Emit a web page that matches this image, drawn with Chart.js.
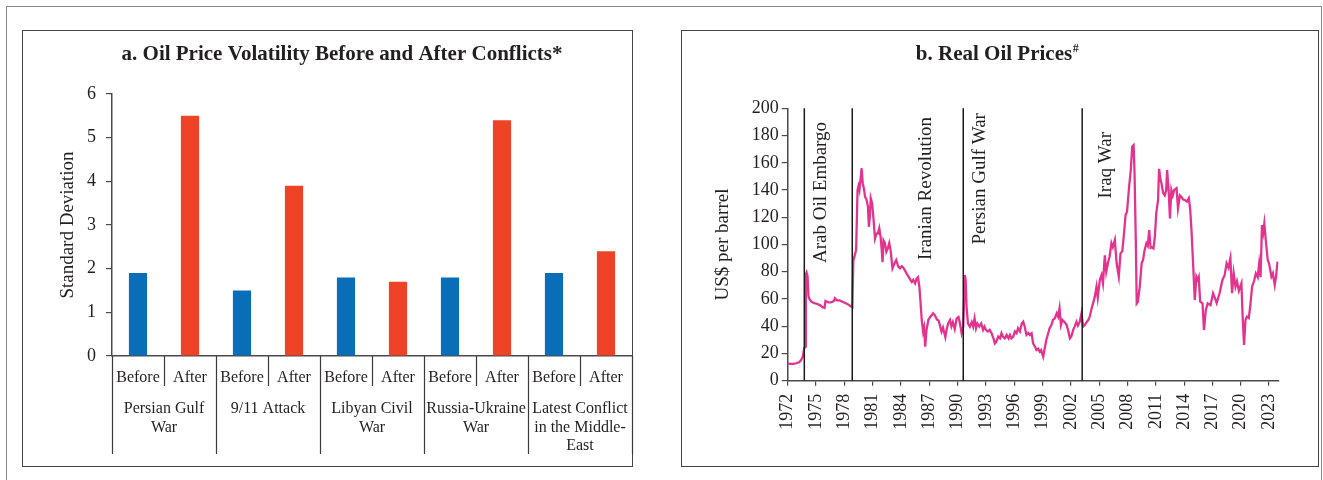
<!DOCTYPE html>
<html><head><meta charset="utf-8">
<script src="https://cdn.jsdelivr.net/npm/chart.js@4.4.1/dist/chart.umd.min.js"></script>
<style>
html,body{margin:0;padding:0;background:#fff;}
body{width:1323px;height:480px;position:relative;overflow:hidden;}
#frame{position:absolute;left:6px;top:6px;width:1316px;height:490px;border:1px solid #888;box-sizing:border-box;}
.panel{position:absolute;top:30px;height:437px;border:1px solid #444;box-sizing:border-box;}
#p1{left:22px;width:611px;}
#p2{left:681px;width:638px;}
canvas{position:absolute;}
#c1{left:22px;top:30px;}
#c2{left:681px;top:30px;}
</style></head>
<body>
<div id="frame"></div>
<div class="panel" id="p1"></div>
<div class="panel" id="p2"></div>
<canvas id="c1" width="618" height="436"></canvas>
<canvas id="c2" width="637" height="436"></canvas>
<script>
// ---------- Panel a data ----------
const conflicts = [
  ['Persian Gulf', 'War'],
  ['9/11 Attack'],
  ['Libyan Civil', 'War'],
  ['Russia-Ukraine', 'War'],
  ['Latest Conflict', 'in the Middle-', 'East']
];
const phases = ['Before', 'After'];
const beforeValues = [1.9, 1.5, 1.8, 1.8, 1.9];
const afterValues  = [5.5, 3.9, 1.7, 5.4, 2.4];
const volTicks = [0, 1, 2, 3, 4, 5, 6];

// ---------- Panel b data ----------
const years = [
1972.0,1972.3,1972.6,1972.9,1973.2,1973.4,1973.6,1973.75,1973.85,1973.92,1974.0,1974.1,1974.2,1974.3,1974.5,1974.8,
1975.1,1975.4,1975.7,1975.9,1976.0,1976.3,1976.6,1976.9,1977.0,1977.2,1977.5,1977.8,1978.1,1978.4,1978.7,1978.85,
1978.95,1979.1,1979.25,1979.4,1979.5,1979.6,1979.75,1979.83,1979.95,1980.1,1980.2,1980.35,1980.5,1980.6,1980.7,1980.8,
1980.95,1981.1,1981.25,1981.4,1981.55,1981.7,1981.85,1981.95,1982.05,1982.15,1982.3,1982.45,1982.6,1982.76,1982.9,1983.1,
1983.3,1983.5,1983.7,1983.9,1984.1,1984.3,1984.5,1984.65,1984.8,1985.0,1985.15,1985.3,1985.5,1985.66,1985.8,1985.95,
1986.1,1986.2,1986.35,1986.45,1986.57,1986.7,1986.9,1987.1,1987.4,1987.6,1987.8,1988.0,1988.15,1988.3,1988.45,1988.7,
1988.85,1989.0,1989.2,1989.35,1989.5,1989.7,1989.9,1990.1,1990.25,1990.43,1990.6,1990.77,1990.85,1990.95,1991.1,1991.3,
1991.5,1991.65,1991.8,1991.95,1992.1,1992.3,1992.5,1992.7,1992.85,1993.0,1993.2,1993.4,1993.6,1993.8,1993.95,1994.1,
1994.3,1994.5,1994.65,1994.8,1995.0,1995.2,1995.4,1995.55,1995.7,1995.9,1996.07,1996.25,1996.4,1996.6,1996.8,1996.95,
1997.1,1997.3,1997.5,1997.65,1997.84,1998.0,1998.2,1998.35,1998.55,1998.7,1998.85,1999.07,1999.2,1999.4,1999.6,1999.75,
1999.95,2000.1,2000.3,2000.5,2000.65,2000.8,2000.95,2001.1,2001.3,2001.55,2001.7,2001.9,2002.05,2002.25,2002.4,2002.6,
2002.75,2002.95,2003.13,2003.3,2003.5,2003.7,2003.85,2004.0,2004.2,2004.35,2004.54,2004.72,2004.85,2005.07,2005.25,2005.4,
2005.6,2005.75,2005.95,2006.1,2006.3,2006.45,2006.66,2006.85,2007.08,2007.26,2007.45,2007.6,2007.8,2007.95,2008.17,2008.35,
2008.5,2008.65,2008.75,2008.88,2008.98,2009.1,2009.3,2009.5,2009.65,2009.8,2010.0,2010.15,2010.3,2010.45,2010.6,2010.75,
2010.9,2011.05,2011.24,2011.35,2011.5,2011.6,2011.77,2011.95,2012.1,2012.2,2012.35,2012.5,2012.65,2012.8,2012.95,2013.2,
2013.35,2013.55,2013.7,2013.9,2014.07,2014.3,2014.5,2014.65,2014.78,2014.95,2015.13,2015.3,2015.45,2015.55,2015.7,2015.95,
2016.1,2016.3,2016.5,2016.8,2017.07,2017.25,2017.45,2017.75,2018.06,2018.3,2018.5,2018.7,2018.9,2019.08,2019.25,2019.44,
2019.6,2019.8,2020.07,2020.2,2020.35,2020.5,2020.65,2020.85,2021.0,2021.2,2021.4,2021.6,2021.8,2021.95,2022.1,2022.25,
2022.38,2022.5,2022.65,2022.86,2023.0,2023.25,2023.4,2023.6,2023.75,2023.9
];
const prices = [
12.5,12.3,12.3,12.8,13.5,15.0,17.5,24,25,78,79.5,77,62,60,58,57,
56.5,55.5,54,53.5,58.5,57.5,57.5,58.5,60.5,59,59,58,57,56,54.5,54,
88,92,96,140,143,140,150,156,145,140,135,133,128,113,120,134,
130,118,104.5,108,108,112,105,97,87,103,101,94.7,97,101,96,82.5,
85.8,88.6,84,82.5,84,82.5,80,78,76.4,74,72.5,74,71.5,75,76,69,
55,44.6,36,39,25,37,44.6,46.8,49.5,48,45,44,40,36,39,32,
38,42,44.6,40,43,38,45.8,46.8,42,34.8,39.7,77.6,74,54.3,42,39.7,
43,39.7,45.8,38.5,42,39.7,42,37.3,39.7,37.3,36.1,37.3,34.8,31.1,27.4,28.5,
32.4,31.1,34.8,32.4,31.1,33.6,31.1,33.6,31.1,32.4,36.1,34.8,38.5,36.1,42,43.3,
40,33.6,35,33.6,34.8,27.4,25,22.5,23.5,21.3,22.5,17.6,22.5,29.9,34.8,38.5,
41,44.6,45.8,49.5,47,53.2,41,44.6,43.3,41,37.3,31.1,32.4,37.3,39.7,43.3,
40.5,43.3,49.5,39.7,41,43.3,44.6,47,53,56.8,61.7,69,61,74,77.6,71.5,
92,80,87,91,101,98,103.3,86.2,76.4,93.5,95,105.7,121.7,124,142.4,154.7,
172,173,152,103.3,56.8,58,69,86.2,88.6,95.5,100.9,99,110.6,97.6,98,97.2,
105.7,123,132.7,155.5,147.4,145,138,136,140,154.7,141,119.2,140,136,140,141.3,
126.6,136,135,133,132.7,131.5,134,125,110.6,86.2,59.2,76.4,74,76,58,56.8,
37.2,51.9,56.8,55.5,64.2,61,57,64,74,77.6,86.2,83,89.9,64.2,78.8,69,
73,66,71.5,47,26.2,44.6,47,46,54.3,69,73,78.8,76,86,76,114.3,
108.8,115.5,103.3,88.6,86,76.4,78.8,70.3,77,87.4
];
const priceTicks = [0, 20, 40, 60, 80, 100, 120, 140, 160, 180, 200];
const yearTicks = [1972,1975,1978,1981,1984,1987,1990,1993,1996,1999,2002,2005,2008,2011,2014,2017,2020,2023];
const eventNames = ['Arab Oil Embargo', 'Iranian Revolution', 'Persian Gulf War', 'Iraq War'];
const eventYears = [1973.76, 1978.84, 1990.6, 2003.2];

// label anchors (layout only)
const eventLabelX = [1975.5, 1986.7, 1992.4, 2005.7];
const eventLabelTop = [190, 193.6, 196.5, 182.6];

const TXT = '#231F20';
const SERIF = '"Liberation Serif", "Times New Roman", serif';
Chart.defaults.font.family = SERIF;
Chart.defaults.color = TXT;

// ---------- Chart a ----------
const barLabels = [];
const barData = [];
const barColors = [];
conflicts.forEach((c, i) => {
  barLabels.push(phases[0]); barData.push(beforeValues[i]); barColors.push('#0A6DB7');
  barLabels.push(phases[1]); barData.push(afterValues[i]); barColors.push('#EE4327');
});

const groupPlugin = {
  id: 'groupPlugin',
  afterDraw(chart) {
    const ctx = chart.ctx;
    const xs = chart.scales.x;
    const top = chart.chartArea.bottom;
    const n = barLabels.length;
    const step = (xs.right - xs.left) / n;
    ctx.save();
    ctx.strokeStyle = '#3a3a3a';
    ctx.lineWidth = 1.2;
    for (let i = 0; i <= n; i++) {
      const x = Math.round(xs.left + i * step) + 0.5;
      const len = (i % 2 === 0) ? 98 : 30;
      ctx.beginPath();
      ctx.moveTo(x, top);
      ctx.lineTo(x, top + len);
      ctx.stroke();
    }
    ctx.fillStyle = TXT;
    ctx.font = '16px ' + SERIF;
    ctx.textAlign = 'center';
    ctx.textBaseline = 'middle';
    conflicts.forEach((lines, g) => {
      const cx = (xs.getPixelForValue(2 * g) + xs.getPixelForValue(2 * g + 1)) / 2;
      lines.forEach((t, k) => ctx.fillText(t, cx, top + 53 + k * 18.5));
    });
    // title
    ctx.font = 'bold 21px ' + SERIF;
    ctx.fillText('a. Oil Price Volatility Before and After Conflicts*', 320, 25);
    ctx.restore();
  }
};

new Chart(document.getElementById('c1'), {
  type: 'bar',
  data: {
    labels: barLabels,
    datasets: [{
      data: barData,
      backgroundColor: barColors,
      borderWidth: 0,
      barPercentage: 0.35,
      categoryPercentage: 1.0
    }]
  },
  options: {
    responsive: false,
    animation: false,
    events: [],
    layout: { padding: { left: 34.6, top: 64, right: 8, bottom: 0 } },
    plugins: { legend: { display: false }, tooltip: { enabled: false } },
    scales: {
      x: {
        grid: { display: false, drawTicks: false },
        border: { display: true, color: '#4a4a4a', width: 1.5 },
        ticks: { font: { size: 16 }, padding: 12, maxRotation: 0, minRotation: 0, color: TXT },
        afterFit(s) { s.height = 110; }
      },
      y: {
        min: 0, max: 6,
        afterBuildTicks(s) { s.ticks = volTicks.map(v => ({ value: v })); },
        grid: { drawOnChartArea: false, drawTicks: true, tickLength: 6, color: '#4a4a4a', lineWidth: 1.2 },
        border: { display: true, color: '#4a4a4a', width: 1.5 },
        ticks: { font: { size: 18 }, padding: 10, color: TXT },
        title: { display: true, text: 'Standard Deviation', font: { size: 19 }, padding: 0, color: TXT },
        afterFit(s) { s.width = 55.4; }
      }
    }
  },
  plugins: [groupPlugin]
});

// ---------- Chart b ----------
const eventPlugin = {
  id: 'eventPlugin',
  afterDatasetsDraw(chart) {
    const ctx = chart.ctx;
    const xs = chart.scales.x, ys = chart.scales.y;
    ctx.save();
    ctx.strokeStyle = '#1a1a1a';
    ctx.lineWidth = 1.5;
    eventYears.forEach(yr => {
      const x = xs.getPixelForValue(yr);
      ctx.beginPath();
      ctx.moveTo(x, ys.getPixelForValue(200));
      ctx.lineTo(x, ys.getPixelForValue(0));
      ctx.stroke();
    });
    ctx.fillStyle = TXT;
    ctx.font = '19px ' + SERIF;
    ctx.textAlign = 'right';
    ctx.textBaseline = 'middle';
    eventNames.forEach((name, i) => {
      ctx.save();
      ctx.translate(xs.getPixelForValue(eventLabelX[i]), ys.getPixelForValue(eventLabelTop[i]));
      ctx.rotate(-Math.PI / 2);
      ctx.fillText(name, 0, 0);
      ctx.restore();
    });
    ctx.restore();
  },
  afterDraw(chart) {
    const ctx = chart.ctx;
    ctx.save();
    ctx.fillStyle = TXT;
    ctx.font = 'bold 21px ' + SERIF;
    ctx.textBaseline = 'middle';
    ctx.textAlign = 'left';
    const main = 'b. Real Oil Prices';
    const w = ctx.measureText(main).width;
    ctx.font = 'bold 12px ' + SERIF;
    const w2 = ctx.measureText('#').width;
    const x0 = 316 - (w + w2) / 2;
    ctx.font = 'bold 21px ' + SERIF;
    ctx.fillText(main, x0, 25);
    ctx.font = 'bold 12px ' + SERIF;
    ctx.fillText('#', x0 + w + 0.5, 19);
    ctx.restore();
  }
};

new Chart(document.getElementById('c2'), {
  type: 'line',
  data: {
    datasets: [{
      data: years.map((x, i) => ({ x: x, y: prices[i] })),
      borderColor: '#E2348F',
      borderWidth: 2.3,
      pointRadius: 0,
      tension: 0,
      fill: false
    }]
  },
  options: {
    responsive: false,
    animation: false,
    events: [],
    layout: { padding: { left: 30.6, top: 78.3, right: 39.5, bottom: 0 } },
    plugins: { legend: { display: false }, tooltip: { enabled: false } },
    scales: {
      x: {
        type: 'linear',
        min: 1972, max: 2024,
        afterBuildTicks(s) { s.ticks = yearTicks.map(v => ({ value: v })); },
        grid: { drawOnChartArea: false, drawTicks: true, tickLength: 5, color: '#4a4a4a', lineWidth: 1.2 },
        border: { display: true, color: '#4a4a4a', width: 1.5 },
        ticks: { font: { size: 18 }, padding: 8, minRotation: 90, maxRotation: 90, autoSkip: false, color: TXT,
                 callback: v => String(v) },
        afterFit(s) { s.height = 85.3; }
      },
      y: {
        min: 0, max: 200,
        afterBuildTicks(s) { s.ticks = priceTicks.map(v => ({ value: v })); },
        grid: { drawOnChartArea: false, drawTicks: true, tickLength: 6, color: '#4a4a4a', lineWidth: 1.2 },
        border: { display: true, color: '#4a4a4a', width: 1.5 },
        ticks: { font: { size: 18 }, padding: 3, color: TXT },
        title: { display: true, text: 'US$ per barrel', font: { size: 19 }, padding: 0, color: TXT },
        afterFit(s) { s.width = 76.1; }
      }
    }
  },
  plugins: [eventPlugin]
});
</script>
</body></html>
